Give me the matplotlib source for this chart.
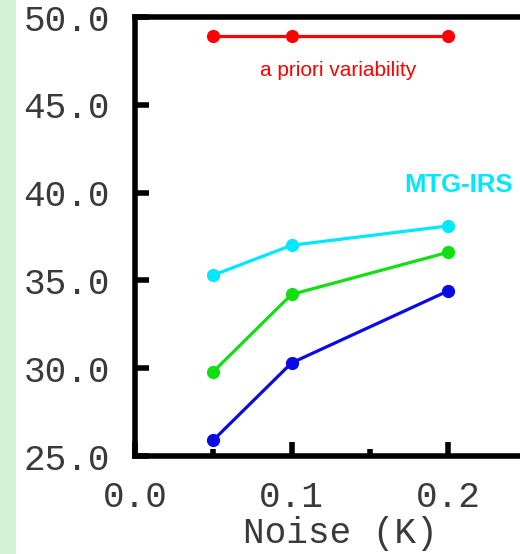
import matplotlib
matplotlib.use("Agg")
import matplotlib.pyplot as plt
from matplotlib.patches import Rectangle
from matplotlib.ticker import MultipleLocator, FormatStrFormatter

# data
noise = [0.05, 0.1, 0.2]
a_priori = [48.9, 48.9, 48.9]
irs_cyan = [35.3, 37.0, 38.1]
irs_green = [29.8, 34.2, 36.6]
irs_blue = [25.9, 30.3, 34.4]

MONO = ["Liberation Mono", "DejaVu Sans Mono"]
SANS = ["Liberation Sans", "DejaVu Sans"]
TXT = "#3a3a3a"

fig = plt.figure(figsize=(5.2, 5.54), dpi=100)
fig.patches.append(Rectangle((0, 0), 16 / 520, 1, transform=fig.transFigure,
                             facecolor="#d4f2d4", edgecolor="none", zorder=0))

ax = fig.add_axes([135 / 520, 1 - 456 / 554, 407 / 520, 439 / 554])

series = [
    (a_priori, "#ff0000"),
    (irs_cyan, "#00e8ff"),
    (irs_green, "#10e010"),
    (irs_blue, "#0a0ae6"),
]
for vals, col in series:
    ax.plot(noise, vals, color=col, lw=2.3, marker="o", ms=8.5, clip_on=False)

ax.set_xlim(0, 0.26)
ax.set_ylim(25, 50)

ax.xaxis.set_major_locator(MultipleLocator(0.1))
ax.xaxis.set_minor_locator(MultipleLocator(0.05))
ax.yaxis.set_major_locator(MultipleLocator(5))
ax.xaxis.set_major_formatter(FormatStrFormatter("%.1f"))
ax.yaxis.set_major_formatter(FormatStrFormatter("%.1f"))

for s in ax.spines.values():
    s.set_linewidth(4)
ax.spines["right"].set_visible(False)

ax.tick_params(axis="both", which="major", direction="in", length=10, width=4,
               labelsize=26, pad=18)
ax.tick_params(axis="x", which="minor", direction="in", length=5, width=4)
ax.tick_params(axis="x", which="major", pad=17)
for lab in ax.get_xticklabels() + ax.get_yticklabels():
    lab.set_fontfamily(MONO)
    lab.set_color(TXT)

ax.set_xlabel("Noise (K)", fontsize=26, family=MONO, color=TXT)
ax.xaxis.set_label_coords((340 - 135) / 407, -(516 - 456) / 439)

ax.text(0.1297, 46.97, "a priori variability", color="#ff0000", fontsize=15,
        family=SANS, ha="center", va="center")
ax.text(0.207, 40.46, "MTG-IRS", color="#00e8ff", fontsize=18.5,
        family=SANS, fontweight="bold", ha="center", va="center")

fig.savefig("out.png", dpi=100)
